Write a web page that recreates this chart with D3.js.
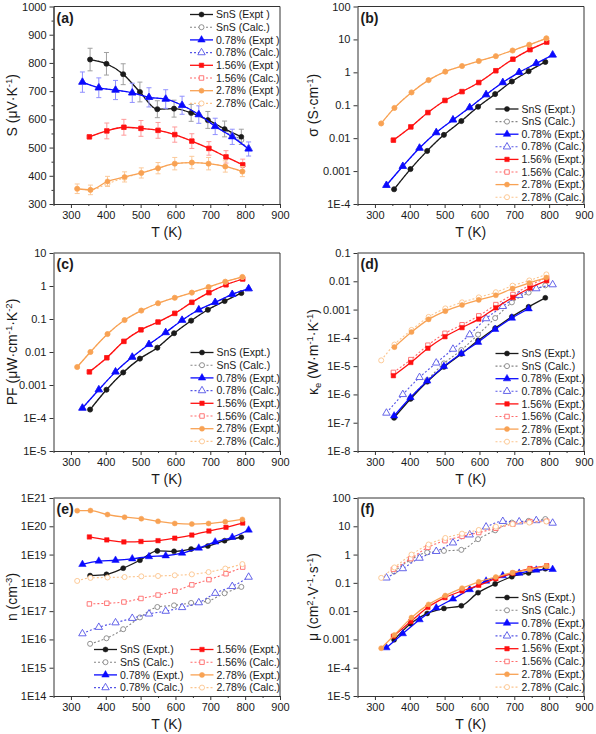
<!DOCTYPE html>
<html><head><meta charset="utf-8">
<script src="https://cdn.jsdelivr.net/npm/d3@7"></script>
<style>
body{margin:0;background:#fff}
svg{display:block}
text{font-family:"Liberation Sans",Arial,sans-serif;fill:#1a1a1a}
</style>
</head><body><svg id="c" width="596" height="734"></svg>
<script>
// ---------------- DATA ----------------
const T_SnS = [355,402,450,498,548,596,645,693,741,789];
const T_078 = [333,380,428,476,524,572,619,667,714,763,810];
const T_156 = [353,403,452,501,550,598,647,696,745,793];
const T_278 = [318,356,405,454,502,550,598,647,695,743,792];
const T_078_ke = [355,402,450,498,548,596,645,693,741];
const T_278_ke = [356,405,454,502,550,598,647,695,743,792];

// (a) Seebeck, µV/K
const S_SnS_expt = [812,797,760,697,636,638,623,598,566,538];
const S_SnS_calc = [812,797,760,697,636,638,622,596,563,527];
const S_SnS_err  = [40,40,37,35,30,30,30,30,28,27];
const S_078_expt = [732,712,704,694,678,672,650,617,575,538,495];
const S_078_calc = [732,712,704,694,678,672,650,617,575,540,497];
const S_078_err  = [36,35,34,34,34,33,32,31,29,27,25];
const S_156_expt = [538,559,572,568,561,546,523,497,467,439];
const S_156_calc = [538,559,572,568,561,546,523,497,467,439];
const S_156_err  = [0,28,28,28,28,27,26,24,22,20];
const S_278_expt = [354,350,380,396,410,427,443,447,443,433,415];
const S_278_calc = [354,350,372,393,410,427,443,447,443,433,415];
const S_278_err  = [17,17,18,18,18,20,22,22,22,20,18];

// (b) conductivity, S/cm
const sig_SnS_expt = [2.8e-4,1.15e-3,4.1e-3,0.0126,0.033,0.09,0.218,0.527,1.08,2.07];
const sig_SnS_calc = [2.8e-4,1.15e-3,4.1e-3,0.0126,0.033,0.09,0.218,0.527,1.08,2.07];
const sig_078_expt = [3.7e-4,1.4e-3,5e-3,0.0148,0.036,0.085,0.21,0.49,1.0,1.87,3.37];
const sig_078_calc = [3.7e-4,1.4e-3,5e-3,0.0148,0.036,0.085,0.21,0.49,1.0,1.87,3.37];
const sig_156_expt = [0.0087,0.022,0.06,0.14,0.26,0.49,1.12,2.5,4.9,8.3];
const sig_156_calc = [0.0087,0.022,0.06,0.14,0.26,0.49,1.12,2.5,4.9,8.3];
const sig_278_expt = [0.028,0.083,0.245,0.58,1.05,1.55,2.2,3.1,4.6,6.9,10.8];
const sig_278_calc = [0.028,0.083,0.245,0.58,1.05,1.55,2.2,3.1,4.6,6.9,10.8];

// (c) power factor, µW cm-1 K-2
const PF_SnS_expt = [1.8e-4,7.2e-4,2.4e-3,6.3e-3,0.0135,0.037,0.089,0.19,0.35,0.61];
const PF_SnS_calc = [1.8e-4,7.2e-4,2.4e-3,6.3e-3,0.0135,0.037,0.089,0.19,0.35,0.61];
const PF_078_expt = [2.0e-4,7.2e-4,2.5e-3,7e-3,0.017,0.039,0.092,0.19,0.32,0.56,0.83];
const PF_078_calc = [2.0e-4,7.2e-4,2.5e-3,7e-3,0.017,0.039,0.092,0.19,0.32,0.56,0.83];
const PF_156_expt = [2.5e-3,6.7e-3,0.021,0.047,0.081,0.148,0.32,0.63,1.09,1.63];
const PF_156_calc = [2.5e-3,6.7e-3,0.021,0.047,0.081,0.148,0.32,0.63,1.09,1.63];
const PF_278_expt = [3.5e-3,0.010,0.035,0.093,0.18,0.30,0.44,0.63,0.93,1.35,1.88];
const PF_278_calc = [3.5e-3,0.010,0.035,0.093,0.18,0.30,0.44,0.63,0.93,1.35,1.88];

// (d) electronic thermal conductivity, W m-1 K-1
const ke_SnS_expt = [1.5e-7,6.9e-7,2.8e-6,9.4e-6,2.7e-5,8e-5,2.2e-4,5.6e-4,1.25e-3,2.6e-3];
const ke_SnS_calc = [1.5e-7,7.5e-7,3.2e-6,1.25e-5,3.7e-5,1.3e-4,5.0e-4,1.8e-3,4.0e-3,7.2e-3];
const ke_078_expt = [1.75e-7,7.8e-7,3.0e-6,9.8e-6,2.8e-5,7e-5,2.0e-4,5.0e-4,1.07e-3];
const ke_078_calc = [2.2e-7,1.0e-6,4e-6,1.3e-5,4e-5,1.3e-4,4.8e-4,1.3e-3,3.2e-3,5.5e-3,7.6e-3];
const ke_156_expt = [4.6e-6,1.35e-5,4.3e-5,1.1e-4,2.3e-4,4.6e-4,1.15e-3,2.7e-3,5.8e-3,1.05e-2];
const ke_156_calc = [6e-6,1.7e-5,5.5e-5,1.45e-4,2.9e-4,6e-4,1.5e-3,3.4e-3,7.2e-3,1.35e-2];
const ke_278_expt = [4.7e-5,1.6e-4,4.5e-4,8.8e-4,1.45e-3,2.2e-3,3.2e-3,5.5e-3,8.7e-3,1.35e-2];
const ke_278_calc = [1.6e-5,5.8e-5,1.9e-4,5.5e-4,1.1e-3,1.8e-3,2.7e-3,4.1e-3,7e-3,1.07e-2,1.75e-2];

// (e) carrier concentration, cm-3
const n_SnS_expt = [1.8e18,2.0e18,3.3e18,6.3e18,1.35e19,1.3e19,1.56e19,2.0e19,3.1e19,4.1e19];
const n_SnS_calc = [7e15,1.1e16,2.3e16,6e16,1.4e17,1.6e17,1.95e17,2.3e17,4.3e17,7.2e17];
const n_078_expt = [4.5e18,5.9e18,6.3e18,7.1e18,8.5e18,9.1e18,1.13e19,1.7e19,2.8e19,4.1e19,7.4e19];
const n_078_calc = [1.6e16,2.7e16,3.9e16,5.6e16,8e16,1.0e17,1.35e17,2.0e17,4.3e17,7.5e17,1.6e18];
const n_156_expt = [4.2e19,3.3e19,2.8e19,2.9e19,3.1e19,3.8e19,4.9e19,6.8e19,9.2e19,1.3e20];
const n_156_calc = [1.8e17,1.9e17,2.1e17,2.8e17,3.7e17,5.1e17,8.5e17,1.3e18,2.1e18,3.6e18];
const n_278_expt = [3.55e20,3.6e20,2.6e20,2.1e20,1.85e20,1.5e20,1.26e20,1.2e20,1.26e20,1.45e20,1.75e20];
const n_278_calc = [1.17e18,1.5e18,1.55e18,1.6e18,1.7e18,1.75e18,1.85e18,2.0e18,2.4e18,3.2e18,4.6e18];

// (f) mobility, cm2 V-1 s-1
const mu_SnS_expt = [9.7e-4,3.6e-3,8.3e-3,0.0125,0.0155,0.045,0.092,0.165,0.225,0.315];
const mu_SnS_calc = [0.25,0.65,1.2,1.35,1.47,3.5,7.2,13.5,15.5,18];
const mu_078_expt = [5.1e-4,1.6e-3,5e-3,0.013,0.027,0.058,0.116,0.18,0.22,0.285,0.3];
const mu_078_calc = [0.15,0.32,0.75,1.3,2.6,5.0,9.5,15,14.5,16,13];
const mu_156_expt = [1.3e-3,4.3e-3,0.0137,0.03,0.052,0.082,0.14,0.22,0.32,0.4];
const mu_156_calc = [0.3,0.72,1.8,3.1,4.4,6.0,8.5,12,14.6,15];
const mu_278_expt = [4.9e-4,1.44e-3,5.9e-3,0.0173,0.0355,0.065,0.109,0.16,0.23,0.3,0.39];
const mu_278_calc = [0.15,0.35,1.0,2.27,3.86,5.5,7.4,9.7,12,13.5,14.7];

// ticks & labels
const xTicks = [300,400,500,600,700,800,900];
const xMinor = [250,350,450,550,650,750,850];
const yTicksA = [300,400,500,600,700,800,900,1000];
const yMinorA = [350,450,550,650,750,850,950];
const yTicksB = [1e-4,1e-3,1e-2,1e-1,1,10,100];
const yLabelsB = ["1E-4","0.001","0.01","0.1","1","10","100"];
const yTicksC = [1e-5,1e-4,1e-3,1e-2,1e-1,1,10];
const yLabelsC = ["1E-5","1E-4","0.001","0.01","0.1","1","10"];
const yTicksD = [1e-8,1e-7,1e-6,1e-5,1e-4,1e-3,1e-2,1e-1];
const yLabelsD = ["1E-8","1E-7","1E-6","1E-5","1E-4","0.001","0.01","0.1"];
const yTicksE = [1e14,1e15,1e16,1e17,1e18,1e19,1e20,1e21];
const yLabelsE = ["1E14","1E15","1E16","1E17","1E18","1E19","1E20","1E21"];
const yTicksF = [1e-5,1e-4,1e-3,1e-2,1e-1,1,10,100];
const yLabelsF = ["1E-5","1E-4","0.001","0.01","0.1","1","10","100"];

const legendA = ["SnS (Expt )","SnS (Calc.)","0.78% (Expt )","0.78% (Calc.)","1.56% (Expt )","1.56% (Calc.)","2.78% (Expt )","2.78% (Calc.)"];
const legendStd = ["SnS (Expt.)","SnS (Calc.)","0.78% (Expt.)","0.78% (Calc.)","1.56% (Expt.)","1.56% (Calc.)","2.78% (Expt.)","2.78% (Calc.)"];

// ---------------- STYLES ----------------
const ST = [
  {c:"#1a1a1a", sym:d3.symbolCircle, hollow:false, dash:null, ec:"#a0a0a0"},
  {c:"#858585", sym:d3.symbolCircle, hollow:true, dash:"2,2"},
  {c:"#0a0aff", sym:d3.symbolTriangle, hollow:false, dash:null, ec:"#9090ff"},
  {c:"#5555e6", sym:d3.symbolTriangle, hollow:true, dash:"2,2"},
  {c:"#ff1010", sym:d3.symbolSquare, hollow:false, dash:null, ec:"#ff9a9a"},
  {c:"#ff6a6a", sym:d3.symbolSquare, hollow:true, dash:"2,2"},
  {c:"#f8a254", sym:d3.symbolCircle, hollow:false, dash:null, ec:"#fbc99a"},
  {c:"#fcc48c", sym:d3.symbolCircle, hollow:true, dash:"2,2"}
];
function symSize(st){
  if (st.sym===d3.symbolTriangle) return 24;
  if (st.sym===d3.symbolSquare) return 20;
  return st.hollow?20:20;
}

const svg = d3.select("#c");
const FONT = '"Liberation Sans",Arial,sans-serif';

function addTitle(sel, parts){
  let prev = "n";
  parts.forEach(([t,m])=>{
    const ts = sel.append("tspan").text(t);
    let dy = 0;
    if (m==="sup" && prev!=="sup") dy = -5;
    if (m==="sub" && prev!=="sub") dy = 3;
    if (m==="n" && prev==="sup") dy = 5;
    if (m==="n" && prev==="sub") dy = -3;
    if (dy) ts.attr("dy", dy);
    if (m!=="n") ts.attr("font-size", 9.5);
    prev = m;
  });
}

function panel(p){
  const [l,t,r,b] = p.rect;
  const x = d3.scaleLinear().domain([250,900]).range([l,r]);
  const y = (p.log? d3.scaleLog(): d3.scaleLinear()).domain(p.yDomain).range([b,t]);
  const g = svg.append("g");

  g.append("line").attr("x1",l).attr("x2",r).attr("y1",t).attr("y2",t).attr("stroke","#333").attr("stroke-width",1);
  g.append("line").attr("x1",r).attr("x2",r).attr("y1",t).attr("y2",b).attr("stroke","#333").attr("stroke-width",1);

  g.append("g").attr("transform",`translate(0,${b})`)
    .call(d3.axisBottom(x).tickValues(xTicks).tickFormat(d3.format("d")).tickSize(4).tickSizeOuter(0).tickPadding(3));
  g.append("g").attr("transform",`translate(0,${b})`)
    .call(d3.axisBottom(x).tickValues(xMinor).tickFormat("").tickSize(2).tickSizeOuter(0));
  g.append("g").attr("transform",`translate(${l},0)`)
    .call(d3.axisLeft(y).tickValues(p.yTicks).tickFormat((d,i)=>p.yLabels?p.yLabels[i]:d).tickSize(4).tickSizeOuter(0).tickPadding(3));
  if (p.yMinor) g.append("g").attr("transform",`translate(${l},0)`)
    .call(d3.axisLeft(y).tickValues(p.yMinor).tickFormat("").tickSize(2).tickSizeOuter(0));
  g.selectAll(".domain").attr("stroke","#333");
  g.selectAll(".tick line").attr("stroke","#333");
  g.selectAll(".tick text").attr("font-size",11).attr("font-family",FONT).attr("fill","#1a1a1a");

  g.append("text").attr("x",(l+r)/2).attr("y",b+33).attr("text-anchor","middle")
    .attr("font-size",14).attr("font-family",FONT).text("T (K)");
  const yt = g.append("text").attr("transform",`translate(${p.ytx},${(t+b)/2}) rotate(-90)`)
    .attr("text-anchor","middle").attr("dy","0.35em").attr("font-size",14).attr("font-family",FONT);
  addTitle(yt, p.ytitle);
  g.append("text").attr("x",l+3).attr("y",t+16).attr("font-size",14).attr("font-weight","bold")
    .attr("font-family",FONT).text(p.label);

  const line = d3.line().x(d=>x(d[0])).y(d=>y(d[1])).curve(d3.curveMonotoneX);
  // draw order: for each material, calc first then expt on top
  const order = [1,0,3,2,5,4,7,6];
  order.forEach(i=>{
    const s = p.series[i];
    const st = ST[i];
    const pts = s.T.map((tt,k)=>[tt,s.v[k],s.e?s.e[k]:0]);
    if (s.e){
      const eg = g.append("g").attr("stroke",st.ec).attr("stroke-width",1);
      pts.forEach(d=>{
        if (!d[2]) return;
        const xx = x(d[0]), y1 = y(d[1]-d[2]), y2 = y(d[1]+d[2]);
        eg.append("line").attr("x1",xx).attr("x2",xx).attr("y1",y1).attr("y2",y2);
        eg.append("line").attr("x1",xx-2.5).attr("x2",xx+2.5).attr("y1",y1).attr("y2",y1);
        eg.append("line").attr("x1",xx-2.5).attr("x2",xx+2.5).attr("y1",y2).attr("y2",y2);
      });
    }
    g.append("path").attr("d",line(pts)).attr("fill","none").attr("stroke",st.c)
      .attr("stroke-width",st.hollow?1.1:1.3).attr("stroke-dasharray",st.dash);
    const sym = d3.symbol().type(st.sym).size(symSize(st));
    g.append("g").selectAll("path").data(pts).join("path")
      .attr("transform",d=>`translate(${x(d[0])},${y(d[1])})`)
      .attr("d",sym()).attr("fill",st.hollow?"#fff":st.c).attr("stroke",st.c).attr("stroke-width",st.hollow?0.9:0.5);
  });

  p.legend.forEach(lg=>{
    lg.items.forEach((idx,k)=>{
      const st = ST[idx];
      const yy = lg.y0 + k*lg.dy;
      g.append("line").attr("x1",lg.x).attr("x2",lg.x+23).attr("y1",yy).attr("y2",yy)
        .attr("stroke",st.c).attr("stroke-width",st.hollow?1.1:1.3).attr("stroke-dasharray",st.dash);
      g.append("path").attr("transform",`translate(${lg.x+11.5},${yy})`)
        .attr("d",d3.symbol().type(st.sym).size(symSize(st))()).attr("fill",st.hollow?"#fff":st.c)
        .attr("stroke",st.c).attr("stroke-width",st.hollow?0.9:0.5);
      g.append("text").attr("x",lg.x+26).attr("y",yy).attr("dy","0.35em").attr("font-size",10.5)
        .attr("font-family",FONT).text(p.legendText[idx]);
    });
  });
}

const L = [53.5,280], R = [357.5,584];
const all8 = [0,1,2,3,4,5,6,7];

panel({rect:[L[0],6.5,L[1],204], label:"(a)", log:false, yDomain:[300,1000], yTicks:yTicksA, yMinor:yMinorA,
  ytx:12, ytitle:[["S (μV·K","n"],["-1","sup"],[")","n"]], legendText:legendA,
  legend:[{x:190,y0:14.5,dy:12.7,items:all8}],
  series:[{T:T_SnS,v:S_SnS_expt,e:S_SnS_err},{T:T_SnS,v:S_SnS_calc},
          {T:T_078,v:S_078_expt,e:S_078_err},{T:T_078,v:S_078_calc},
          {T:T_156,v:S_156_expt,e:S_156_err},{T:T_156,v:S_156_calc},
          {T:T_278,v:S_278_expt,e:S_278_err},{T:T_278,v:S_278_calc}]});

panel({rect:[R[0],6.5,R[1],204], label:"(b)", log:true, yDomain:[1e-4,100], yTicks:yTicksB, yLabels:yLabelsB,
  ytx:313, ytitle:[["σ (S·cm","n"],["-1","sup"],[")","n"]], legendText:legendStd,
  legend:[{x:495.5,y0:109,dy:12.6,items:all8}],
  series:[{T:T_SnS,v:sig_SnS_expt},{T:T_SnS,v:sig_SnS_calc},
          {T:T_078,v:sig_078_expt},{T:T_078,v:sig_078_calc},
          {T:T_156,v:sig_156_expt},{T:T_156,v:sig_156_calc},
          {T:T_278,v:sig_278_expt},{T:T_278,v:sig_278_calc}]});

panel({rect:[L[0],253,L[1],451], label:"(c)", log:true, yDomain:[1e-5,10], yTicks:yTicksC, yLabels:yLabelsC,
  ytx:12, ytitle:[["PF (μW·cm","n"],["-1","sup"],["·K","n"],["-2","sup"],[")","n"]], legendText:legendStd,
  legend:[{x:190.5,y0:352.5,dy:12.7,items:all8}],
  series:[{T:T_SnS,v:PF_SnS_expt},{T:T_SnS,v:PF_SnS_calc},
          {T:T_078,v:PF_078_expt},{T:T_078,v:PF_078_calc},
          {T:T_156,v:PF_156_expt},{T:T_156,v:PF_156_calc},
          {T:T_278,v:PF_278_expt},{T:T_278,v:PF_278_calc}]});

panel({rect:[R[0],253,R[1],451], label:"(d)", log:true, yDomain:[1e-8,0.1], yTicks:yTicksD, yLabels:yLabelsD,
  ytx:313, ytitle:[["κ","n"],["e","sub"],[" (W·m","n"],["-1","sup"],["·K","n"],["-1","sup"],[")","n"]], legendText:legendStd,
  legend:[{x:495.5,y0:353.5,dy:12.6,items:all8}],
  series:[{T:T_SnS,v:ke_SnS_expt},{T:T_SnS,v:ke_SnS_calc},
          {T:T_078_ke,v:ke_078_expt},{T:T_078,v:ke_078_calc},
          {T:T_156,v:ke_156_expt},{T:T_156,v:ke_156_calc},
          {T:T_278_ke,v:ke_278_expt},{T:T_278,v:ke_278_calc}]});

panel({rect:[L[0],498,L[1],696], label:"(e)", log:true, yDomain:[1e14,1e21], yTicks:yTicksE, yLabels:yLabelsE,
  ytx:12, ytitle:[["n (cm","n"],["-3","sup"],[")","n"]], legendText:legendStd,
  legend:[{x:94,y0:649.5,dy:12.7,items:[0,1,2,3]},{x:190.5,y0:649.5,dy:12.7,items:[4,5,6,7]}],
  series:[{T:T_SnS,v:n_SnS_expt},{T:T_SnS,v:n_SnS_calc},
          {T:T_078,v:n_078_expt},{T:T_078,v:n_078_calc},
          {T:T_156,v:n_156_expt},{T:T_156,v:n_156_calc},
          {T:T_278,v:n_278_expt},{T:T_278,v:n_278_calc}]});

panel({rect:[R[0],498,R[1],696], label:"(f)", log:true, yDomain:[1e-5,100], yTicks:yTicksF, yLabels:yLabelsF,
  ytx:313, ytitle:[["μ (cm","n"],["2","sup"],["·V","n"],["-1","sup"],["·s","n"],["-1","sup"],[")","n"]], legendText:legendStd,
  legend:[{x:495.5,y0:597.5,dy:12.8,items:all8}],
  series:[{T:T_SnS,v:mu_SnS_expt},{T:T_SnS,v:mu_SnS_calc},
          {T:T_078,v:mu_078_expt},{T:T_078,v:mu_078_calc},
          {T:T_156,v:mu_156_expt},{T:T_156,v:mu_156_calc},
          {T:T_278,v:mu_278_expt},{T:T_278,v:mu_278_calc}]});
</script>
</body></html>
